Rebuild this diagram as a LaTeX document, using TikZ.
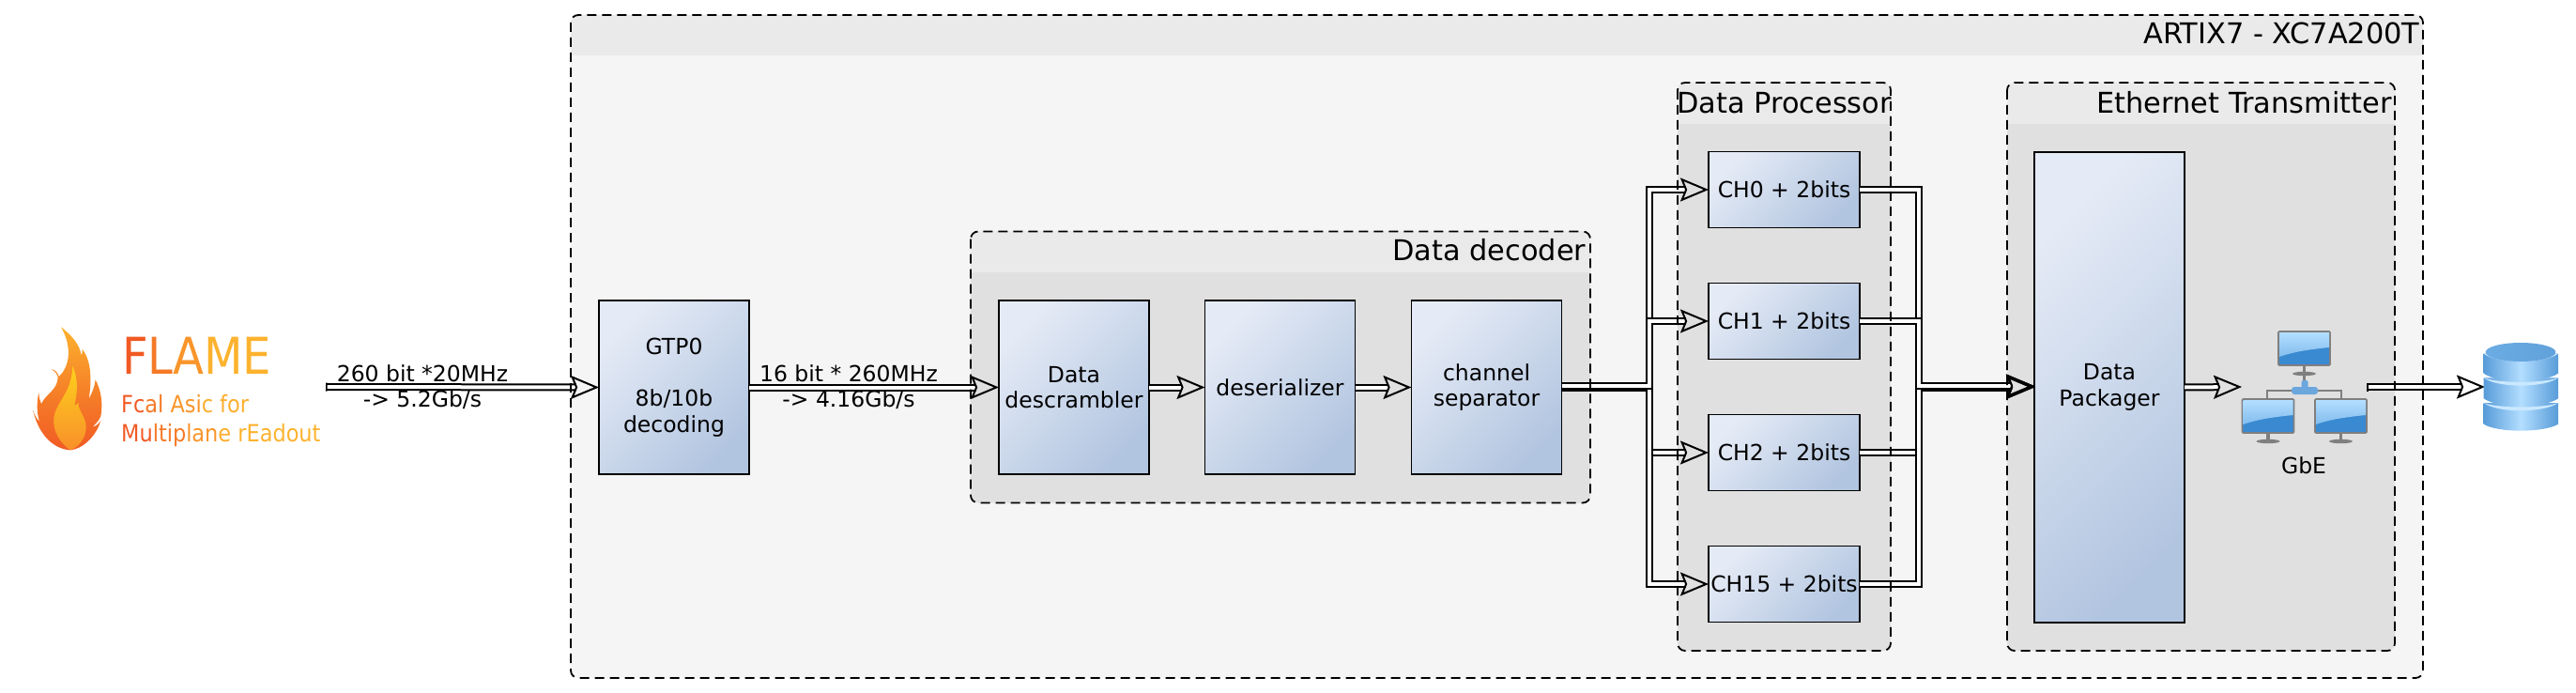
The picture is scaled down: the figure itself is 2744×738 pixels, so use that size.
\documentclass[tikz,border=0pt]{standalone}
\usepackage{fontspec}
\setmainfont{DejaVu Sans}
\newfontfamily\logofont[FakeStretch=0.89]{DejaVu Sans}
\usepackage{xcolor}
\usetikzlibrary{arrows.meta}

\definecolor{outerpanel}{HTML}{F5F5F5}
\definecolor{innerpanel}{HTML}{E0E0E0}
\definecolor{headband}{HTML}{EAEAEA}
\definecolor{boxlight}{HTML}{E5EBF6}
\definecolor{boxdark}{HTML}{B2C5E0}
\definecolor{flameA}{HTML}{F15A24}
\definecolor{flameB}{HTML}{F47A27}
\definecolor{flameC}{HTML}{F9952B}
\definecolor{flameD}{HTML}{FDB22E}
\definecolor{screenlight}{HTML}{B3DEFF}
\definecolor{screendark}{HTML}{3A8AD2}
\definecolor{standgray}{HTML}{7F7F7F}

\tikzset{
    linktip/.tip={Stealth[open,length=30pt,width=25pt,inset=5pt,line width=2pt]},
    endtip/.tip={Bar[width=9pt,line width=1.5pt]},
    link/.style={line width=2pt,double=white,double distance=4pt,-{linktip}},
    freelink/.style={link,{endtip}-{linktip}},
    gradbox/.style={draw,line width=1.8pt,inner sep=0pt,outer sep=0pt,align=center,
        top color=boxlight,bottom color=boxdark,shading angle=45},
    panelfill/.style={inner sep=0pt,outer sep=0pt,rounded corners=8pt},
    panelline/.style={line width=1.8pt,rounded corners=8pt,dash pattern=on 10pt off 6pt},
    paneltitle/.style={font=\fontsize{30.4}{36}\selectfont},
    every node/.style={font=\fontsize{23.5}{27.5}\selectfont},
    monitor/.pic={
        \fill[standgray] (-1.6,18) rectangle (1.6,27);
        \fill[standgray] (0,27) ellipse (12.5 and 2.2);
        \fill[screendark,draw=standgray,line width=1.6pt,rounded corners=1pt] (-27.5,-18) rectangle (27.5,18);
        \shade[top color=screenlight,bottom color=screenlight!60!screendark]
            (-26.5,-17) -- (26.5,-17) -- (26.5,-1) .. controls (8,1) and (-10,3) .. (-26.5,9) -- cycle;
    }
}

% header band of a panel, square at its lower edge
\newcommand{\panelhead}[2]{
    \begin{scope}
        \clip (#1.north west) rectangle (#1.east |- 0,#2);
        \fill[headband,rounded corners=8pt] (#1.north west) rectangle (#1.south east);
    \end{scope}
}

\begin{document}
\begin{tikzpicture}[x=1pt,y=-1pt]
    \useasboundingbox (0,0) rectangle (2744,738);

    \coordinate (flameout) at (347,412);
    \coordinate (busin) at (1756.5,412.5);
    \coordinate (businup) at (1756.5,411);
    \coordinate (busout) at (2043.5,412.5);
    \coordinate (busoutup) at (2043.5,411);
    \coordinate (gbein) at (2388,412);
    \coordinate (gbeout) at (2521,412);
    \coordinate (dbin) at (2647,412);

%panels
    \node[panelfill,fill=outerpanel,minimum width=1973pt,minimum height=706pt] (artix) at (1594.5,369) {};
    \panelhead{artix}{59}
    \node[panelfill,fill=innerpanel,minimum width=660pt,minimum height=289pt] (decoder) at (1364,391) {};
    \panelhead{decoder}{289}
    \node[panelfill,fill=innerpanel,minimum width=227pt,minimum height=605pt] (processor) at (1900.5,390.5) {};
    \panelhead{processor}{132}
    \node[panelfill,fill=innerpanel,minimum width=413pt,minimum height=605pt] (ethernet) at (2344.5,390.5) {};
    \panelhead{ethernet}{132}

%blocks
    \node[gradbox,minimum width=160pt,minimum height=185pt] (gtp) at (718,412.5) {GTP0\\[27.5pt]8b/10b\\decoding};
    \node[gradbox,minimum width=160pt,minimum height=185pt] (descrambler) at (1144,412.5) {Data\\descrambler};
    \node[gradbox,minimum width=160pt,minimum height=185pt] (deserializer) at (1363.5,412.5) {deserializer};
    \node[gradbox,minimum width=160pt,minimum height=185pt] (separator) at (1583.5,412.5) {channel\\separator};
    \node[gradbox,minimum width=161pt,minimum height=81pt] (ch0) at (1900.5,202) {CH0 + 2bits};
    \node[gradbox,minimum width=161pt,minimum height=81pt] (ch1) at (1900.5,342) {CH1 + 2bits};
    \node[gradbox,minimum width=161pt,minimum height=81pt] (ch2) at (1900.5,482) {CH2 + 2bits};
    \node[gradbox,minimum width=161pt,minimum height=81pt] (ch15) at (1900.5,622) {CH15 + 2bits};
    \node[gradbox,minimum width=160pt,minimum height=501pt] (packager) at (2247,412.5) {Data\\Packager};

%arrows
    \draw[freelink] (flameout) -- (gtp.west);
    \draw[link] (gtp.east) -- (descrambler.west);
    \draw[link] (descrambler.east) -- (deserializer.west);
    \draw[link] (deserializer.east) -- (separator.west);
    \draw[link] (separator.east) -- (busin) |- (ch2.west);
    \draw[link] (separator.east) -- (busin) |- (ch15.west);
    \draw[link] (separator.east |- businup) -- (businup) |- (ch0.west);
    \draw[link] (separator.east |- businup) -- (businup) |- (ch1.west);
    \draw[link] (ch2.east) -| (busout) -- (packager.west);
    \draw[link] (ch15.east) -| (busout) -- (packager.west);
    \draw[link] (ch0.east) -| (busoutup) -- (packager.west |- busoutup);
    \draw[link] (ch1.east) -| (busoutup) -- (packager.west |- busoutup);
    \draw[link] (packager.east) -- (gbein);
    \draw[freelink] (gbeout) -- (dbin);

%dashed outlines go over the arrows
    \draw[panelline] (artix.north west) rectangle (artix.south east);
    \draw[panelline] (decoder.north west) rectangle (decoder.south east);
    \draw[panelline] (processor.north west) rectangle (processor.south east);
    \draw[panelline] (ethernet.north west) rectangle (ethernet.south east);

%labels
    \node[paneltitle,anchor=base east] (artixtitle) at (2581,47) {ARTIX7 - XC7A200T};
    \node[paneltitle,anchor=base east] (decodertitle) at (1693,277) {Data decoder};
    \node[paneltitle,anchor=base] (processortitle) at (1900.5,121) {Data Processor};
    \node[paneltitle,anchor=base east] (ethernettitle) at (2551,121) {Ethernet Transmitter};
    \node[align=center] (rateone) at (450,412) {260 bit *20MHz\\-> 5.2Gb/s};
    \node[align=center] (ratetwo) at (904,412) {16 bit * 260MHz\\-> 4.16Gb/s};
    \node[anchor=base] (gbelabel) at (2454,504) {GbE};

%flame logo
    \node[anchor=base west,inner sep=0pt,font=\logofont\fontsize{54}{60}\selectfont] (flametitle) at (130,398)
        {\textcolor{flameA}{F}\textcolor{flameB}{L}\textcolor{flameC}{A}\textcolor{flameD}{ME}};
    \node[anchor=base west,inner sep=0pt,font=\logofont\fontsize{25.2}{30}\selectfont] (flameline) at (129,439)
        {\textcolor{flameA}{Fc}\textcolor{flameB}{al }\textcolor{flameC}{Asi}\textcolor{flameD!85!flameC}{c for}};
    \node[anchor=base west,inner sep=0pt,font=\logofont\fontsize{25.2}{30}\selectfont] (flamelinetwo) at (129,470)
        {\textcolor{flameA}{Mu}\textcolor{flameB}{ltip}\textcolor{flameC}{lan}\textcolor{flameD!85!flameC}{e }\textcolor{flameD}{rEadout}};
    \begin{scope}[shift={(20,335)},scale=1/3]
        \shade[top color=flameD,bottom color=flameA,middle color=flameB!70!flameC]
            (135,40) .. controls (175,70) and (195,100) .. (200,130) .. controls (203,125) and (204,118) .. (203,110)
            .. controls (222,135) and (238,180) .. (224,270) .. controls (234,250) and (243,230) .. (245,208)
            .. controls (262,240) and (270,280) .. (262,325) .. controls (258,335) and (250,345) .. (235,360)
            .. controls (248,355) and (258,348) .. (262,338) .. controls (250,385) and (205,430) .. (165,433)
            .. controls (115,430) and (65,390) .. (45,305) .. controls (50,320) and (55,330) .. (66,342)
            .. controls (56,310) and (58,275) .. (64,250) .. controls (66,265) and (66,275) .. (72,285)
            .. controls (85,255) and (125,240) .. (125,200) .. controls (122,190) and (115,180) .. (104,175)
            .. controls (115,175) and (125,185) .. (128,198) .. controls (165,165) and (170,100) .. (135,40) -- cycle;
        \shade[top color=flameD!60!yellow,bottom color=flameC!90!flameA]
            (165,433) .. controls (130,410) and (108,370) .. (112,330) .. controls (118,280) and (170,250) .. (172,165)
            .. controls (188,200) and (190,240) .. (178,290) .. controls (184,290) and (188,285) .. (190,280)
            .. controls (190,310) and (215,325) .. (215,360) .. controls (215,395) and (190,425) .. (165,433) -- cycle;
    \end{scope}

%network icon
    \pic at (2454.5,371) {monitor};
    \pic at (2416,443) {monitor};
    \pic at (2493.5,443) {monitor};
    \draw[standgray,line width=2pt] (2415,425) -- (2415,415.5) -- (2493.5,415.5) -- (2493.5,425);
    \fill[standgray] (2453,398) rectangle (2456,408);
    \fill[screendark!75!white,rounded corners=3pt] (2441,412) rectangle (2469,420);
    \fill[screendark!75!white,rounded corners=1.5pt] (2451.5,405) rectangle (2458.5,414);

%database icon
    \begin{scope}[shift={(2630,355)},scale=1/3]
        \shade[left color=screendark!85!white,right color=screendark!85!white,middle color=screenlight]
            (47,222) -- (47,290) .. controls (90,318) and (240,318) .. (285,290) -- (285,222) -- cycle;
        \fill[screenlight!70!white] (47,222) .. controls (90,255) and (240,255) .. (285,222)
            .. controls (240,240) and (90,240) .. (47,222) -- cycle;
        \shade[left color=screendark!85!white,right color=screendark!85!white,middle color=screenlight]
            (47,142) -- (47,208) .. controls (90,240) and (240,240) .. (285,208) -- (285,142) -- cycle;
        \fill[screenlight!70!white] (47,142) .. controls (90,175) and (240,175) .. (285,142)
            .. controls (240,160) and (90,160) .. (47,142) -- cycle;
        \shade[left color=screendark!85!white,right color=screendark!85!white,middle color=screenlight]
            (47,65) -- (47,128) .. controls (90,160) and (240,160) .. (285,128) -- (285,65) -- cycle;
        \fill[screenlight!70!white] (47,65) .. controls (90,98) and (240,98) .. (285,65) -- cycle;
        \shade[left color=screendark!60!screenlight,right color=screendark!80!white] (165,60) ellipse (112 and 30);
    \end{scope}
\end{tikzpicture}
\end{document}
